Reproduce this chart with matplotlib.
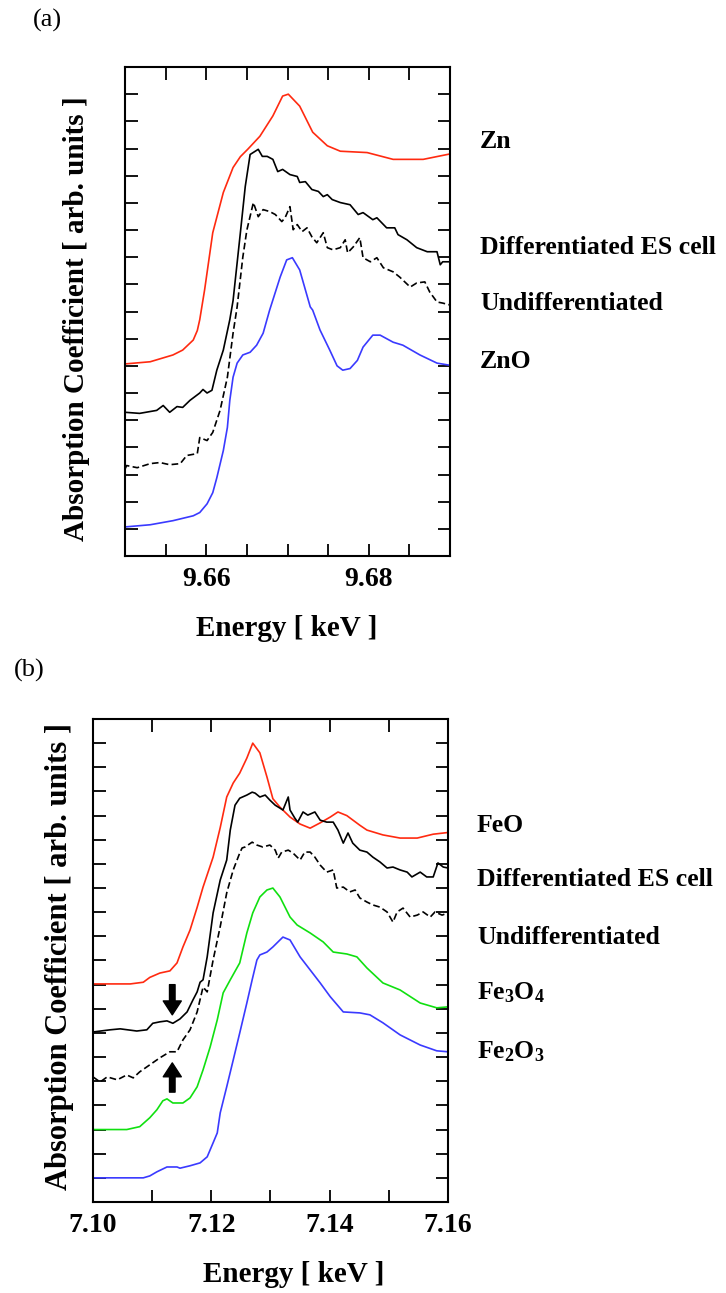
import matplotlib
matplotlib.use("Agg")
import matplotlib.pyplot as plt
import numpy as np

plt.rcParams['font.family'] = ['Liberation Serif', 'DejaVu Serif']
plt.rcParams['mathtext.fontset'] = 'custom'
plt.rcParams['mathtext.rm'] = 'Liberation Serif:bold'
plt.rcParams['mathtext.it'] = 'Liberation Serif:bold'
plt.rcParams['mathtext.bf'] = 'Liberation Serif:bold'

# ---------------- panel (a): Zn K-edge ----------------
zn_e = [9.6500, 9.6531, 9.6559, 9.6571, 9.6584, 9.6589, 9.6592, 9.6598, 9.6608, 9.6621,
        9.6633, 9.6642, 9.6651, 9.6666, 9.6682, 9.6694, 9.6701, 9.6715, 9.6731, 9.6749,
        9.6765, 9.6798, 9.6830, 9.6867, 9.6900]
zn_mu = [6.07, 6.15, 6.4, 6.58, 6.95, 7.3, 7.7, 8.8, 10.9, 12.38,
         13.3, 13.7, 13.97, 14.45, 15.2, 15.93, 16.0, 15.56, 14.6, 14.1,
         13.9, 13.85, 13.6, 13.6, 13.8]

diff_a_e = [9.6500, 9.6518, 9.6539, 9.6547, 9.6555, 9.6564, 9.6571, 9.6580, 9.6592, 9.6596,
            9.6601, 9.6607, 9.6613, 9.6621, 9.6629, 9.6633, 9.6642, 9.6648, 9.6654, 9.6664,
            9.6669, 9.6675, 9.6682, 9.6688, 9.6694, 9.6703, 9.6712, 9.6715, 9.6722, 9.6730,
            9.6738, 9.6744, 9.6749, 9.6755, 9.6765, 9.6777, 9.6787, 9.6793, 9.6805, 9.6810,
            9.6822, 9.6832, 9.6836, 9.6847, 9.6859, 9.6872, 9.6884, 9.6888, 9.6891, 9.6900]
diff_a_mu = [4.29, 4.25, 4.36, 4.54, 4.29, 4.5, 4.47, 4.73, 5.0, 5.13,
             5.0, 5.1, 5.84, 6.58, 7.7, 8.4, 10.9, 12.6, 13.78, 13.97,
             13.71, 13.71, 13.6, 13.15, 13.23, 13.04, 12.97, 12.75, 12.78, 12.49,
             12.42, 12.23, 12.3, 12.12, 12.01, 11.93, 11.57, 11.64, 11.38, 11.45,
             11.08, 11.08, 10.83, 10.64, 10.35, 10.2, 10.2, 9.72, 9.83, 9.83]

undiff_a_e = [9.6500, 9.6502, 9.6515, 9.6531, 9.6543, 9.6555, 9.6568, 9.6576, 9.6589, 9.6592,
              9.6601, 9.6608, 9.6617, 9.6626, 9.6633, 9.6638, 9.6645, 9.6650, 9.6658, 9.6664,
              9.6670, 9.6678, 9.6685, 9.6693, 9.6697, 9.6703, 9.6707, 9.6712, 9.6718, 9.6724,
              9.6730, 9.6736, 9.6744, 9.6749, 9.6756, 9.6765, 9.6771, 9.6774, 9.6781, 9.6789,
              9.6793, 9.6802, 9.6810, 9.6818, 9.6830, 9.6838, 9.6851, 9.6859, 9.6869, 9.6875,
              9.6884, 9.6891, 9.6900]
undiff_a_mu = [2.2, 2.33, 2.25, 2.4, 2.44, 2.36, 2.4, 2.7, 2.77, 3.36,
               3.25, 3.55, 4.36, 5.58, 7.2, 8.17, 10.0, 11.0, 12.01, 11.49,
               11.75, 11.68, 11.57, 11.31, 11.45, 11.86, 11.01, 11.2, 10.94, 11.08,
               10.75, 10.53, 10.9, 10.35, 10.27, 10.35, 10.64, 10.16, 10.38, 10.72,
               9.98, 9.83, 9.98, 9.61, 9.46, 9.27, 8.9, 9.05, 9.09, 8.72,
               8.35, 8.31, 8.24]

zno_e = [9.6500, 9.6531, 9.6559, 9.6584, 9.6592, 9.6601, 9.6608, 9.6613, 9.6621, 9.6626,
         9.6629, 9.6633, 9.6638, 9.6645, 9.6654, 9.6662, 9.6670, 9.6678, 9.6691, 9.6699,
         9.6706, 9.6715, 9.6728, 9.6731, 9.6740, 9.6752, 9.6761, 9.6768, 9.6777, 9.6786,
         9.6793, 9.6805, 9.6814, 9.6830, 9.6842, 9.6863, 9.6884, 9.6900]
zno_mu = [0.07, 0.15, 0.3, 0.48, 0.6, 0.92, 1.33, 1.88, 2.88, 3.73,
          4.73, 5.58, 6.1, 6.4, 6.5, 6.76, 7.2, 8.05, 9.27, 9.9,
          9.98, 9.53, 8.17, 8.05, 7.32, 6.58, 6.0, 5.84, 5.9, 6.2,
          6.69, 7.13, 7.13, 6.87, 6.76, 6.4, 6.1, 6.02]

labels_a = ['Zn', 'Differentiated ES cell', 'Undifferentiated', 'ZnO']
label_y_a = [142, 247, 303, 362]   # pixel rows of the right-hand labels

# ---------------- panel (b): Fe K-edge ----------------
feo_e = [7.1000, 7.1063, 7.1085, 7.1096, 7.1113, 7.1130, 7.1142, 7.1152, 7.1164, 7.1176,
         7.1186, 7.1203, 7.1215, 7.1226, 7.1237, 7.1248, 7.1260, 7.1270, 7.1282, 7.1294,
         7.1304, 7.1316, 7.1333, 7.1350, 7.1367, 7.1384, 7.1401, 7.1414, 7.1429, 7.1451,
         7.1463, 7.1490, 7.1519, 7.1548, 7.1575, 7.1600]
feo_mu = [8.03, 8.03, 8.1, 8.3, 8.48, 8.57, 8.9, 9.56, 10.26, 11.2,
          12.04, 13.28, 14.5, 15.77, 16.35, 16.76, 17.38, 18.0, 17.6, 16.6,
          15.7, 15.35, 14.94, 14.65, 14.48, 14.7, 14.94, 15.15, 15.0, 14.6,
          14.4, 14.2, 14.07, 14.07, 14.23, 14.3]

diff_b_e = [7.1000, 7.1029, 7.1046, 7.1074, 7.1091, 7.1101, 7.1113, 7.1125, 7.1135, 7.1147,
            7.1159, 7.1169, 7.1176, 7.1181, 7.1186, 7.1193, 7.1203, 7.1215, 7.1226, 7.1232,
            7.1240, 7.1248, 7.1260, 7.1269, 7.1274, 7.1282, 7.1291, 7.1299, 7.1308, 7.1316,
            7.1321, 7.1330, 7.1333, 7.1341, 7.1346, 7.1355, 7.1363, 7.1375, 7.1384, 7.1395,
            7.1406, 7.1414, 7.1423, 7.1431, 7.1439, 7.1451, 7.1463, 7.1473, 7.1485, 7.1497,
            7.1507, 7.1519, 7.1531, 7.1539, 7.1553, 7.1564, 7.1575, 7.1583, 7.1592, 7.1600]
diff_b_mu = [6.04, 6.13, 6.17, 6.08, 6.13, 6.4, 6.46, 6.5, 6.4, 6.58,
             6.87, 7.37, 7.7, 8.1, 8.2, 9.15, 10.97, 12.33, 13.16, 14.4,
             15.43, 15.72, 15.85, 15.97, 15.93, 15.77, 15.85, 15.64, 15.43, 15.31,
             15.23, 15.77, 15.23, 14.9, 14.73, 15.15, 15.02, 15.15, 14.81, 14.73,
             14.73, 14.4, 13.86, 14.28, 13.86, 13.57, 13.49, 13.28, 13.08, 12.83,
             12.87, 12.75, 12.66, 12.46, 12.66, 12.46, 12.46, 13.04, 12.87, 12.83]

undiff_b_e = [7.1000, 7.1012, 7.1024, 7.1041, 7.1057, 7.1068, 7.1079, 7.1096, 7.1113, 7.1130,
              7.1142, 7.1152, 7.1164, 7.1176, 7.1186, 7.1193, 7.1203, 7.1215, 7.1226, 7.1237,
              7.1248, 7.1252, 7.1257, 7.1269, 7.1277, 7.1287, 7.1299, 7.1308, 7.1313, 7.1319,
              7.1330, 7.1338, 7.1350, 7.1358, 7.1367, 7.1375, 7.1384, 7.1395, 7.1406, 7.1412,
              7.1423, 7.1434, 7.1443, 7.1451, 7.1463, 7.1473, 7.1485, 7.1497, 7.1507, 7.1514,
              7.1524, 7.1536, 7.1548, 7.1558, 7.1570, 7.1578, 7.1590, 7.1600]
undiff_b_mu = [4.18, 3.97, 4.18, 4.06, 4.26, 4.14, 4.39, 4.68, 4.97, 5.22,
               5.22, 5.71, 6.13, 6.87, 7.9, 7.7, 9.02, 10.4, 11.8, 12.75,
               13.45, 13.66, 13.7, 13.9, 13.78, 13.7, 13.78, 13.57, 13.24, 13.49,
               13.57, 13.45, 13.16, 13.49, 13.49, 13.28, 12.95, 12.66, 12.75, 12.0,
               12.04, 11.84, 11.92, 11.59, 11.42, 11.3, 11.21, 11.01, 10.59, 11.01,
               11.17, 10.8, 10.88, 11.01, 10.8, 11.01, 10.88, 10.97]

fe3o4_e = [7.1000, 7.1057, 7.1079, 7.1096, 7.1108, 7.1118, 7.1125, 7.1135, 7.1152, 7.1164,
           7.1176, 7.1186, 7.1198, 7.1210, 7.1220, 7.1232, 7.1248, 7.1260, 7.1270, 7.1282,
           7.1294, 7.1304, 7.1316, 7.1333, 7.1345, 7.1367, 7.1389, 7.1406, 7.1429, 7.1446,
           7.1463, 7.1490, 7.1519, 7.1553, 7.1581, 7.1600]
fe3o4_mu = [2.0, 2.0, 2.12, 2.49, 2.82, 3.19, 3.27, 3.1, 3.1, 3.31,
            3.77, 4.47, 5.42, 6.54, 7.66, 8.2, 8.9, 10.14, 10.97, 11.63,
            11.92, 12.0, 11.63, 10.8, 10.47, 10.14, 9.77, 9.35, 9.27, 9.15,
            8.69, 8.07, 7.78, 7.24, 7.04, 7.08]

fe2o3_e = [7.1000, 7.1085, 7.1096, 7.1108, 7.1125, 7.1142, 7.1147, 7.1164, 7.1181, 7.1193,
           7.1203, 7.1210, 7.1215, 7.1226, 7.1237, 7.1248, 7.1260, 7.1269, 7.1277, 7.1282,
           7.1294, 7.1304, 7.1316, 7.1321, 7.1333, 7.1350, 7.1367, 7.1384, 7.1401, 7.1423,
           7.1451, 7.1468, 7.1490, 7.1519, 7.1553, 7.1581, 7.1600]
fe2o3_mu = [0.0, 0.0, 0.08, 0.25, 0.45, 0.45, 0.4, 0.5, 0.62, 0.87,
            1.45, 1.86, 2.69, 3.77, 4.88, 6.0, 7.24, 8.2, 9.02, 9.23,
            9.35, 9.56, 9.85, 9.97, 9.85, 9.15, 8.61, 8.07, 7.5, 6.87,
            6.83, 6.75, 6.42, 5.92, 5.5, 5.26, 5.22]

labels_b = ['FeO', 'Differentiated ES cell', 'Undifferentiated',
            'Fe$_3$O$_4$', 'Fe$_2$O$_3$']
label_y_b = [825, 880, 937, 993, 1052]

red = '#ff2a10'
blue = '#3a3aff'
green = '#10e010'

W, H = 726, 1293
fig = plt.figure(figsize=(W / 100, H / 100), dpi=100)


def style_axes(ax, xlim, ylim, xmajor, xminor, nticks):
    ax.set_xlim(*xlim)
    ax.set_ylim(*ylim)
    ax.set_xticks(xmajor)
    ax.set_xticks(xminor, minor=True)
    ax.set_yticks(np.arange(0, nticks))
    ax.set_yticklabels([])
    ax.tick_params(which='both', direction='in', top=True, right=True,
                   length=9, width=1.3)
    ax.tick_params(axis='x', labelsize=20, pad=8)
    for sp in ax.spines.values():
        sp.set_linewidth(1.5)


# panel (a)
ax1 = fig.add_axes([125 / W, 1 - 556 / H, 325 / W, 489 / H])
ax1.plot(zn_e, zn_mu, color=red, lw=1.2)
ax1.plot(diff_a_e, diff_a_mu, color='black', lw=1.2)
ax1.plot(undiff_a_e, undiff_a_mu, color='black', lw=1.2, dashes=(4, 2))
ax1.plot(zno_e, zno_mu, color=blue, lw=1.2)
style_axes(ax1, (9.65, 9.69), (-1, 17), [9.66, 9.68],
           np.arange(9.65, 9.6901, 0.005), 17)
ax1.set_xticklabels(['9.66', '9.68'], fontweight='bold')

for txt, yp in zip(labels_a, label_y_a):
    fig.text(480 / W, 1 - yp / H, txt, fontsize=18.5, fontweight='bold', va='center')

fig.text(77 / W, 1 - 319 / H, 'Absorption Coefficient [ arb. units ]',
         rotation=90, fontsize=21, fontweight='bold', ha='center', va='center')
fig.text(287 / W, 1 - 628 / H, 'Energy [ keV ]', fontsize=21,
         fontweight='bold', ha='center', va='center')
fig.text(47 / W, 1 - 20 / H, '(a)', fontsize=19, ha='center', va='center')

# panel (b)
ax2 = fig.add_axes([93 / W, 1 - 1202 / H, 355 / W, 483 / H])
ax2.plot(feo_e, feo_mu, color=red, lw=1.2)
ax2.plot(diff_b_e, diff_b_mu, color='black', lw=1.2)
ax2.plot(undiff_b_e, undiff_b_mu, color='black', lw=1.2, dashes=(4, 2))
ax2.plot(fe3o4_e, fe3o4_mu, color=green, lw=1.2)
ax2.plot(fe2o3_e, fe2o3_mu, color=blue, lw=1.2)
style_axes(ax2, (7.10, 7.16), (-1, 19), [7.10, 7.12, 7.14, 7.16],
           np.arange(7.10, 7.1601, 0.01), 19)
ax2.set_xticklabels(['7.10', '7.12', '7.14', '7.16'], fontweight='bold')

# pre-edge arrows
arrow = dict(facecolor='black', edgecolor='black', width=4, headwidth=13, headlength=10)
ax2.annotate('', xy=(7.1134, 6.75), xytext=(7.1134, 8.0), arrowprops=arrow)
ax2.annotate('', xy=(7.1134, 4.76), xytext=(7.1134, 3.55), arrowprops=arrow)

for txt, yp in zip(labels_b, label_y_b):
    fig.text(477 / W, 1 - yp / H, txt, fontsize=18.5, fontweight='bold', va='center')

fig.text(60 / W, 1 - 956 / H, 'Absorption Coefficient [ arb. units ]',
         rotation=90, fontsize=22, fontweight='bold', ha='center', va='center')
fig.text(294 / W, 1 - 1275 / H, 'Energy [ keV ]', fontsize=21,
         fontweight='bold', ha='center', va='center')
fig.text(29 / W, 1 - 670 / H, '(b)', fontsize=19, ha='center', va='center')

fig.savefig('out.png', dpi=100)
